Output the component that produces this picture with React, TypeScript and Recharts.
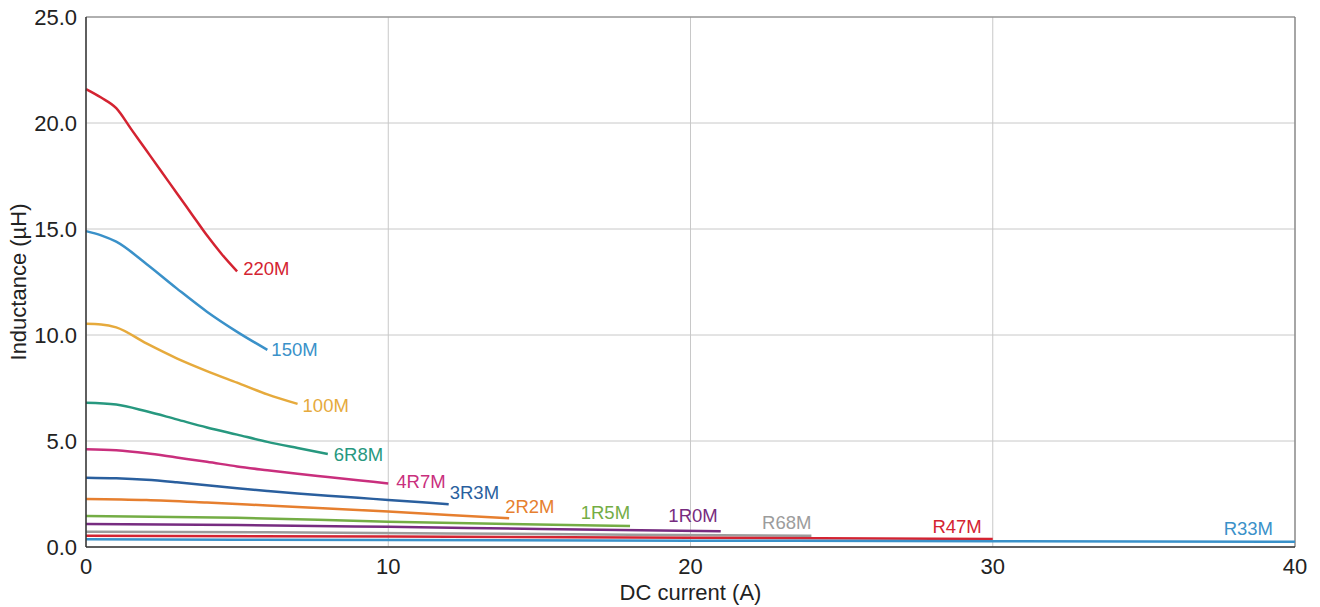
import React from "react";
import {
  LineChart,
  Line,
  XAxis,
  YAxis,
  CartesianGrid,
  ReferenceLine,
  Label,
} from "recharts";

// DC current (A) / inductance (µH) readings per part
const i220M = [0, 0.5, 1, 1.5, 2, 2.5, 3, 3.5, 4, 4.5, 5];
const l220M = [21.6, 21.2, 20.7, 19.7, 18.7, 17.7, 16.7, 15.7, 14.7, 13.8, 13.0];

const i150M = [0, 0.5, 1, 2, 3, 4, 5, 6];
const l150M = [14.9, 14.7, 14.4, 13.35, 12.2, 11.1, 10.15, 9.3];

const i100M = [0, 0.5, 1, 2, 3, 4, 5, 6, 7];
const l100M = [10.53, 10.5, 10.36, 9.6, 8.9, 8.3, 7.75, 7.2, 6.75];

const i6R8M = [0, 1, 2, 3, 4, 5, 6, 7, 8];
const l6R8M = [6.81, 6.72, 6.4, 6.02, 5.64, 5.3, 4.96, 4.67, 4.39];

const i4R7M = [0, 1, 2, 3, 4, 5, 6, 7, 8, 9, 10];
const l4R7M = [4.61, 4.56, 4.42, 4.22, 4.02, 3.8, 3.62, 3.45, 3.3, 3.15, 3.0];

const i3R3M = [0, 1, 2, 3, 4, 5, 6, 7, 8, 9, 10, 11, 12];
const l3R3M = [3.27, 3.24, 3.17, 3.05, 2.91, 2.77, 2.64, 2.52, 2.42, 2.32, 2.22, 2.12, 2.02];

const i2R2M = [0, 2, 4, 6, 8, 10, 12, 14];
const l2R2M = [2.27, 2.22, 2.1, 1.96, 1.82, 1.67, 1.51, 1.36];

const i1R5M = [0, 5, 10, 14, 18];
const l1R5M = [1.46, 1.38, 1.19, 1.09, 0.99];

const i1R0M = [0, 5, 10, 15, 21];
const l1R0M = [1.09, 1.04, 0.95, 0.85, 0.74];

const iR68M = [0, 6, 12, 18, 24];
const lR68M = [0.72, 0.69, 0.64, 0.58, 0.53];

const iR47M = [0, 10, 20, 30];
const lR47M = [0.53, 0.49, 0.44, 0.38];

const iR33M = [0, 10, 20, 30, 40];
const lR33M = [0.36, 0.33, 0.3, 0.27, 0.25];

const xTicks = [0, 10, 20, 30, 40];
const yTicks = [0, 5, 10, 15, 20, 25];

const FONT = '"Liberation Sans", Arial, Helvetica, sans-serif';

const zip = (xs: number[], ys: number[]) => xs.map((x, i) => ({ x, y: ys[i] }));

// label offsets are relative to each curve's last point
const series = [
  { name: "220M", data: zip(i220M, l220M), color: "#d42331", dx: 6, dy: 4, anchor: "start" },
  { name: "150M", data: zip(i150M, l150M), color: "#3a91c9", dx: 4, dy: 6, anchor: "start" },
  { name: "100M", data: zip(i100M, l100M), color: "#e6aa3c", dx: 5, dy: 8, anchor: "start" },
  { name: "6R8M", data: zip(i6R8M, l6R8M), color: "#27987f", dx: 6, dy: 7, anchor: "start" },
  { name: "4R7M", data: zip(i4R7M, l4R7M), color: "#c92f7d", dx: 8, dy: 5, anchor: "start" },
  { name: "3R3M", data: zip(i3R3M, l3R3M), color: "#2a5f9e", dx: 1, dy: -5, anchor: "start" },
  { name: "2R2M", data: zip(i2R2M, l2R2M), color: "#e67f2f", dx: -4, dy: -5, anchor: "start" },
  { name: "1R5M", data: zip(i1R5M, l1R5M), color: "#74ad45", dx: 0, dy: -7, anchor: "end" },
  { name: "1R0M", data: zip(i1R0M, l1R0M), color: "#772c80", dx: -3, dy: -9, anchor: "end" },
  { name: "R68M", data: zip(iR68M, lR68M), color: "#9c9c9c", dx: 0, dy: -7, anchor: "end" },
  { name: "R47M", data: zip(iR47M, lR47M), color: "#d42331", dx: -11, dy: -6, anchor: "end" },
  { name: "R33M", data: zip(iR33M, lR33M), color: "#3a91c9", dx: -22, dy: -7, anchor: "end" },
];

function endLabel(s: (typeof series)[number]) {
  const last = s.data.length - 1;
  return (props: any) => {
    if (props.index !== last) return null;
    const x = props.x ?? props.viewBox?.x;
    const y = props.y ?? props.viewBox?.y;
    return (
      <text
        key={s.name}
        x={x + s.dx}
        y={y + s.dy}
        fill={s.color}
        fontSize={18.5}
        fontFamily={FONT}
        textAnchor={s.anchor}
      >
        {s.name}
      </text>
    );
  };
}

export default function App() {
  return (
    <div style={{ position: "absolute", left: 0, top: 0, background: "#fff" }}>
      <LineChart
        width={1320}
        height={607}
        margin={{ top: 17, right: 25, left: 0, bottom: 0 }}
      >
        <CartesianGrid stroke="#c8c8c8" strokeWidth={1} />
        <XAxis
          type="number"
          dataKey="x"
          domain={[0, 40]}
          ticks={xTicks}
          tickLine={false}
          tickMargin={5}
          height={60}
          axisLine={{ stroke: "#333", strokeWidth: 1.5 }}
          tick={{ fontSize: 22, fill: "#222", fontFamily: FONT }}
        >
          <Label
            content={(p: any) => (
              <text
                x={p.viewBox.x + p.viewBox.width / 2}
                y={p.viewBox.y + 53}
                textAnchor="middle"
                fontSize={22}
                fontFamily={FONT}
                fill="#222"
              >
                DC current (A)
              </text>
            )}
          />
        </XAxis>
        <YAxis
          type="number"
          domain={[0, 25]}
          ticks={yTicks}
          width={86}
          tickLine={false}
          tickMargin={3}
          axisLine={{ stroke: "#333", strokeWidth: 1.5 }}
          tick={{ fontSize: 22, fill: "#222", fontFamily: FONT }}
          tickFormatter={(v: number) => v.toFixed(1)}
        >
          <Label
            content={(p: any) => {
              const cx = p.viewBox.x + 18;
              const cy = p.viewBox.y + p.viewBox.height / 2;
              return (
                <text
                  x={cx}
                  y={cy}
                  transform={`rotate(-90 ${cx} ${cy})`}
                  textAnchor="middle"
                  dominantBaseline="central"
                  fontSize={22}
                  fontFamily={FONT}
                  fill="#222"
                >
                  Inductance (µH)
                </text>
              );
            }}
          />
        </YAxis>
        <ReferenceLine y={25} stroke="#7d7d7d" strokeWidth={1.2} />
        <ReferenceLine x={40} stroke="#7d7d7d" strokeWidth={1.2} />
        {series.map((s) => (
          <Line
            key={s.name}
            data={s.data}
            dataKey="y"
            type="monotone"
            stroke={s.color}
            strokeWidth={2.5}
            dot={false}
            activeDot={false}
            isAnimationActive={false}
            label={endLabel(s)}
          />
        ))}
      </LineChart>
    </div>
  );
}
